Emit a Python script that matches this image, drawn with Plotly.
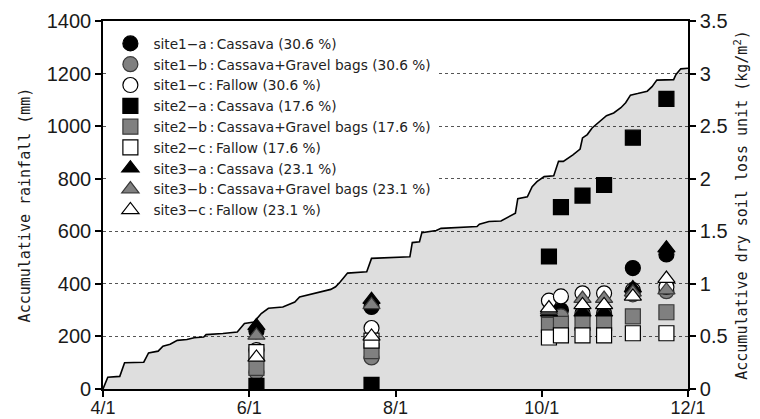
import plotly.graph_objects as go

# ---------------- data ----------------
rain_dates = ["2013-04-01","2013-04-03","2013-04-08","2013-04-10","2013-04-18","2013-04-20","2013-04-24",
              "2013-04-26","2013-04-29","2013-05-02","2013-05-06","2013-05-09","2013-05-13","2013-05-14",
              "2013-05-21","2013-05-27","2013-05-30","2013-06-03","2013-06-06","2013-06-09","2013-06-15",
              "2013-06-20","2013-06-22","2013-06-28","2013-07-01","2013-07-05","2013-07-07","2013-07-09",
              "2013-07-12","2013-07-20","2013-07-22","2013-08-07","2013-08-08","2013-08-11","2013-08-12",
              "2013-08-18","2013-08-20","2013-09-04","2013-09-05","2013-09-09","2013-09-14","2013-09-16",
              "2013-09-20","2013-09-21","2013-09-25","2013-09-27","2013-09-29","2013-10-02","2013-10-06",
              "2013-10-08","2013-10-10","2013-10-14","2013-10-17","2013-10-18","2013-10-20","2013-10-22",
              "2013-10-25","2013-10-28","2013-10-31","2013-11-03","2013-11-05","2013-11-07","2013-11-10",
              "2013-11-14","2013-11-16","2013-11-18","2013-11-25","2013-11-26","2013-11-28","2013-12-01"]
rain_mm = [0,45,48,100,102,137,144,
           163,170,185,188,195,198,207,
           211,217,249,255,287,307,312,
           331,350,363,369,379,389,408,
           441,446,497,503,557,560,595,
           603,611,618,627,637,639,650,
           669,724,731,770,789,808,811,
           866,866,891,913,955,968,993,
           1018,1040,1050,1070,1089,1118,1124,
           1133,1150,1175,1177,1197,1218,1220]

sample_dates = ["2013-06-04","2013-07-22","2013-10-04","2013-10-09",
                "2013-10-18","2013-10-27","2013-11-08","2013-11-22"]

site1_a = [0.55, 0.78, 0.70, 0.75, 0.72, 0.72, 1.15, 1.28]
site1_b = [0.16, 0.30, 0.68, 0.69, 0.70, 0.70, 0.90, 0.93]
site1_c = [0.37, 0.58, 0.84, 0.88, 0.91, 0.91, 0.94, 0.97]
site2_a = [0.03, 0.04, 1.26, 1.73, 1.84, 1.94, 2.39, 2.76]
site2_b = [0.20, 0.36, 0.61, 0.62, 0.63, 0.63, 0.69, 0.73]
site2_c = [0.35, 0.46, 0.49, 0.51, 0.51, 0.51, 0.53, 0.53]
site3_a = [0.60, 0.85, 0.73, None, 0.73, 0.73, 0.96, 1.34]
site3_b = [0.51, 0.80, 0.75, None, 0.86, 0.86, 0.92, 0.94]
site3_c = [0.30, 0.50, 0.77, None, 0.80, 0.80, 0.88, 1.05]

series_names = ["site1−a\u2009:\u2009Cassava (30.6 %)",
                "site1−b\u2009:\u2009Cassava+Gravel bags (30.6 %)",
                "site1−c\u2009:\u2009Fallow (30.6 %)",
                "site2−a\u2009:\u2009Cassava (17.6 %)",
                "site2−b\u2009:\u2009Cassava+Gravel bags (17.6 %)",
                "site2−c\u2009:\u2009Fallow (17.6 %)",
                "site3−a\u2009:\u2009Cassava (23.1 %)",
                "site3−b\u2009:\u2009Cassava+Gravel bags (23.1 %)",
                "site3−c\u2009:\u2009Fallow (23.1 %)"]
series_values = [site1_a, site1_b, site1_c, site2_a, site2_b, site2_c, site3_a, site3_b, site3_c]

x_tickvals = ["2013-04-01","2013-06-01","2013-08-01","2013-10-01","2013-12-01"]
x_ticktext = ["4/1","6/1","8/1","10/1","12/1"]
y1_ticks = [0,200,400,600,800,1000,1200,1400]
y2_ticks = [0,0.5,1,1.5,2,2.5,3,3.5]
y2_ticktext = ["0","0.5","1","1.5","2","2.5","3","3.5"]

# ---------------- styles ----------------
symbols = ["circle","circle","circle","square","square","square","triangle-up","triangle-up","triangle-up"]
fills = ["#000000","#808080","#ffffff"] * 3
outlines = ["#000000","#3a3a3a","#000000"] * 3

fig = go.Figure()
fig.add_trace(go.Scatter(
    x=rain_dates, y=rain_mm, mode="lines",
    line=dict(color="#000000", width=1.6),
    fill="tozeroy", fillcolor="rgba(0,0,0,0.13)",
    showlegend=False, yaxis="y", hoverinfo="skip"))

for name, vals, sym, fc, oc in zip(series_names, series_values, symbols, fills, outlines):
    fig.add_trace(go.Scatter(
        x=sample_dates, y=vals, mode="markers", name=name, yaxis="y2",
        marker=dict(symbol=sym, size=15, color=fc, line=dict(color=oc, width=1.2))))

font_tick = "Liberation Sans, Arial, sans-serif"
font_title = "DejaVu Sans Mono, monospace"
font_leg = "DejaVu Sans, sans-serif"

fig.update_layout(
    width=760, height=419,
    margin=dict(l=103, r=72, t=21, b=30),
    paper_bgcolor="white", plot_bgcolor="white",
    font=dict(family=font_tick, size=20, color="#1a1a1a"),
    showlegend=True,
    legend=dict(x=0.0075, y=0.981, xanchor="left", yanchor="top",
                bgcolor="white", borderwidth=0, itemwidth=36,
                font=dict(family=font_leg, size=13.7, color="#222222"),
                itemsizing="trace"),
    xaxis=dict(type="date", range=["2013-04-01", "2013-12-01"],
               tickvals=x_tickvals, ticktext=x_ticktext,
               showline=True, linecolor="black", linewidth=1.6, mirror=True,
               ticks="outside", ticklen=6, tickwidth=1.5, tickcolor="black",
               showgrid=False, zeroline=False, automargin=False,
               ticklabelstandoff=-4,
               tickfont=dict(family=font_tick, size=18)),
    yaxis=dict(range=[0, 1400], tickvals=y1_ticks,
               showline=True, linecolor="black", linewidth=1.6,
               ticks="outside", ticklen=6, tickwidth=1.5, tickcolor="black",
               showgrid=True, gridcolor="#555555", griddash="dot", gridwidth=1,
               zeroline=False, automargin=False, tickfont=dict(size=20),
               title=dict(text="Accumulative rainfall\u00a0(mm)",
                          font=dict(family=font_title, size=15), standoff=12)),
    yaxis2=dict(range=[0, 3.5], tickvals=y2_ticks, ticktext=y2_ticktext,
                overlaying="y", side="right",
                showline=True, linecolor="black", linewidth=1.6,
                ticks="outside", ticklen=6, tickwidth=1.5, tickcolor="black",
                showgrid=False, zeroline=False, automargin=False, tickfont=dict(size=20),
                title=dict(text="Accumulative dry soil loss unit\u00a0(kg/m<sup>2</sup>)",
                           font=dict(family=font_title, size=15), standoff=10)),
)

fig.write_html("out.html",
               config={"displayModeBar": False},
               post_script="document.body.style.margin='0';document.body.style.padding='0';")
